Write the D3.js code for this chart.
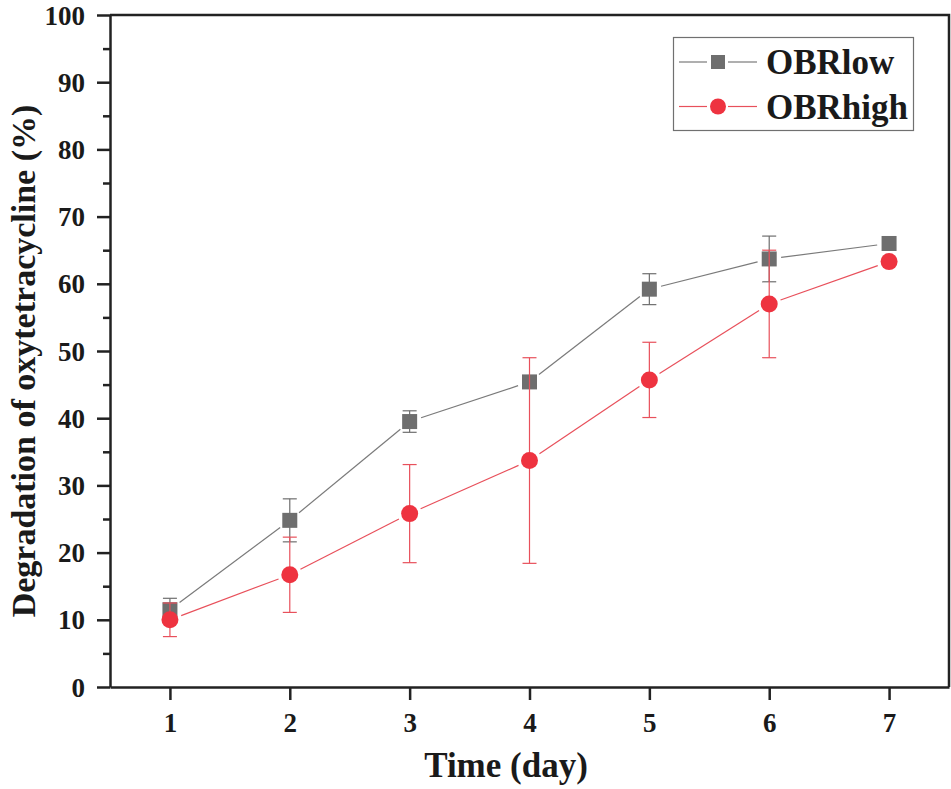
<!DOCTYPE html>
<html>
<head>
<meta charset="utf-8">
<script src="https://cdn.jsdelivr.net/npm/d3@7"></script>
<style>
  body { margin: 0; background: #fff; }
  svg text { font-family: "Liberation Serif", "Times New Roman", serif; font-weight: bold; fill: #1a1a1a; }
</style>
</head>
<body>
<div id="chart"></div>
<script>
// Degradation of oxytetracycline over time, two OBR series.

var days = [1, 2, 3, 4, 5, 6, 7];
var obrLow = [11.5, 24.8, 39.5, 45.4, 59.2, 63.7, 66.0];
var obrLowErr = [1.7, 3.2, 1.6, 0, 2.3, 3.4, 0];
var obrHigh = [10.0, 16.7, 25.8, 33.7, 45.7, 57.0, 63.3];
var obrHighErr = [2.5, 5.6, 7.3, 15.3, 5.6, 8.0, 0];
var yTicks = [0, 10, 20, 30, 40, 50, 60, 70, 80, 90, 100];
var yMinorTicks = [5, 15, 25, 35, 45, 55, 65, 75, 85, 95];
var seriesNames = ["OBRlow", "OBRhigh"];

var param = {
    width: 951,
    height: 789,
    left: 110,
    right: 949,
    top: 15,
    bottom: 687,
    gray: "#6e6e6e",
    grayLine: "#7a7a7a",
    red: "#ee3340",
    redLine: "#e8505b",
    gap: 12
};

var svg = d3.select("#chart").append("svg")
    .attr("width", param.width)
    .attr("height", param.height);

var x = d3.scaleLinear().domain([0.5, 7.5]).range([param.left, param.right]);
var y = d3.scaleLinear().domain([0, 100]).range([param.bottom, param.top]);

// axes
var yAxis = svg.append("g")
    .attr("transform", "translate(" + param.left + ",0)")
    .call(d3.axisLeft(y).tickValues(yTicks).tickSize(13).tickPadding(12).tickSizeOuter(0));
yAxis.selectAll(".tick text").attr("font-size", 27).attr("dy", "0.34em");

svg.append("g")
    .attr("transform", "translate(" + param.left + ",0)")
    .call(d3.axisLeft(y).tickValues(yMinorTicks).tickSize(7).tickFormat("").tickSizeOuter(0))
    .select(".domain").remove();

var xAxis = svg.append("g")
    .attr("transform", "translate(0," + param.bottom + ")")
    .call(d3.axisBottom(x).tickValues(days).tickFormat(d3.format("d")).tickSize(13).tickPadding(13).tickSizeOuter(0));
xAxis.selectAll(".tick text").attr("font-size", 27);

svg.selectAll(".domain, .tick line")
    .attr("stroke", "#222")
    .attr("stroke-width", 2.5);
svg.selectAll(".tick text").attr("fill", "#1a1a1a");
svg.selectAll("g").attr("font-family", null);

// top and right frame
svg.append("path")
    .attr("d", "M" + param.left + "," + param.top + "H" + param.right + "V" + param.bottom)
    .attr("fill", "none")
    .attr("stroke", "#222")
    .attr("stroke-width", 2.5);

// axis titles
svg.append("text")
    .attr("x", 506).attr("y", 777)
    .attr("text-anchor", "middle")
    .attr("font-size", 35)
    .text("Time (day)");

svg.append("text")
    .attr("transform", "translate(35,361) rotate(-90)")
    .attr("text-anchor", "middle")
    .attr("font-size", 34)
    .text("Degradation of oxytetracycline (%)");

// line segments with a small gap at each marker
function drawLine(vals, color){
    var pts = days.map(function(d, i){ return [x(d), y(vals[i])]; });
    var g = svg.append("g");
    for(var i = 0; i < pts.length - 1; i++){
	var a = pts[i], b = pts[i + 1];
	var dx = b[0] - a[0], dy = b[1] - a[1];
	var len = Math.sqrt(dx * dx + dy * dy);
	var ux = dx / len, uy = dy / len;
	g.append("line")
	    .attr("x1", a[0] + ux * param.gap).attr("y1", a[1] + uy * param.gap)
	    .attr("x2", b[0] - ux * param.gap).attr("y2", b[1] - uy * param.gap)
	    .attr("stroke", color)
	    .attr("stroke-width", 1.2);
    }
}

function drawErrors(vals, errs, color){
    var g = svg.append("g").attr("stroke", color).attr("stroke-width", 1.2);
    days.forEach(function(d, i){
	if(!errs[i]) return;
	var cx = x(d), y1 = y(vals[i] + errs[i]), y2 = y(vals[i] - errs[i]);
	g.append("line").attr("x1", cx).attr("x2", cx).attr("y1", y1).attr("y2", y2);
	g.append("line").attr("x1", cx - 7).attr("x2", cx + 7).attr("y1", y1).attr("y2", y1);
	g.append("line").attr("x1", cx - 7).attr("x2", cx + 7).attr("y1", y2).attr("y2", y2);
    });
}

// OBRlow
drawLine(obrLow, param.grayLine);
drawErrors(obrLow, obrLowErr, param.gray);
svg.append("g").selectAll("rect")
    .data(days)
    .enter().append("rect")
    .attr("x", function(d){ return x(d) - 7.5; })
    .attr("y", function(d, i){ return y(obrLow[i]) - 7.5; })
    .attr("width", 15).attr("height", 15)
    .attr("fill", param.gray);

// OBRhigh
drawLine(obrHigh, param.redLine);
drawErrors(obrHigh, obrHighErr, param.redLine);
svg.append("g").selectAll("circle")
    .data(days)
    .enter().append("circle")
    .attr("cx", function(d){ return x(d); })
    .attr("cy", function(d, i){ return y(obrHigh[i]); })
    .attr("r", 8.5)
    .attr("fill", param.red);

// legend
var legend = svg.append("g");
legend.append("rect")
    .attr("x", 673.5).attr("y", 37.5)
    .attr("width", 240).attr("height", 93)
    .attr("fill", "#fff")
    .attr("stroke", "#707070")
    .attr("stroke-width", 1.2);

seriesNames.forEach(function(name, i){
    var ly = 62 + i * 44.5;
    var color = i == 0 ? param.grayLine : param.redLine;
    legend.append("line").attr("x1", 679).attr("x2", 707).attr("y1", ly).attr("y2", ly)
	.attr("stroke", color).attr("stroke-width", 1.2);
    legend.append("line").attr("x1", 728).attr("x2", 757).attr("y1", ly).attr("y2", ly)
	.attr("stroke", color).attr("stroke-width", 1.2);
    if(i == 0){
	legend.append("rect").attr("x", 711).attr("y", ly - 7).attr("width", 14).attr("height", 14)
	    .attr("fill", param.gray);
    }else{
	legend.append("circle").attr("cx", 718).attr("cy", ly).attr("r", 8)
	    .attr("fill", param.red);
    }
    legend.append("text")
	.attr("x", 766).attr("y", ly + 12)
	.attr("font-size", 35)
	.text(name);
});
</script>
</body>
</html>
